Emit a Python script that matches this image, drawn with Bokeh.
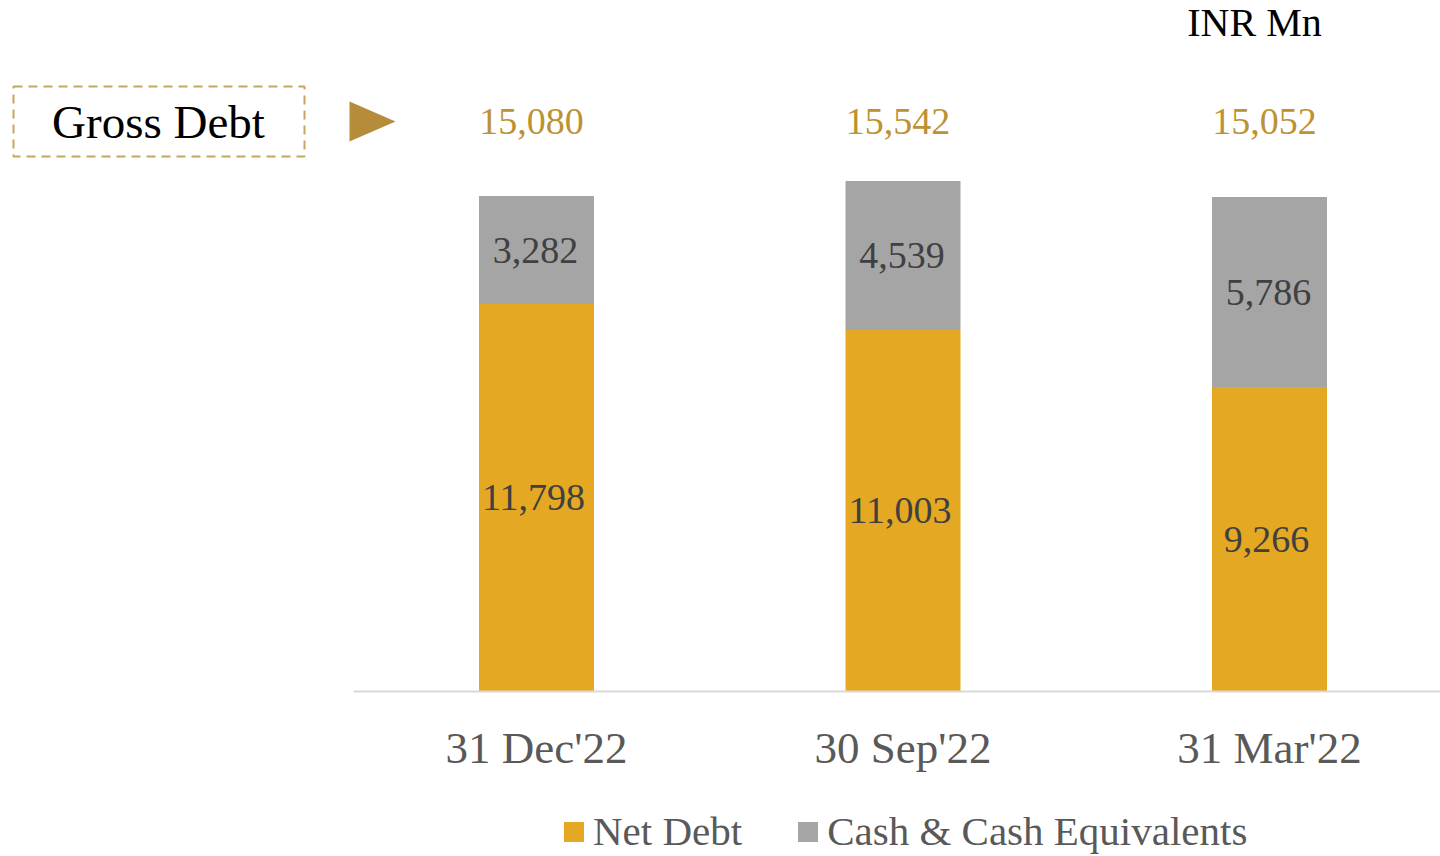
from bokeh.plotting import figure
from bokeh.models import Range1d, ColumnDataSource, Legend, LegendItem
from bokeh.core.properties import value
from bokeh.embed import file_html
from bokeh.resources import INLINE

# ---------------- data ----------------
categories = ["31 Dec'22", "30 Sep'22", "31 Mar'22"]
net_debt = [11798, 11003, 9266]
cash = [3282, 4539, 5786]
gross_debt = [15080, 15542, 15052]
series_names = ["Net Debt", "Cash & Cash Equivalents"]
unit_label = "INR Mn"
gross_label = "Gross Debt"

# ---------------- layout constants ----------------
W, H = 1440, 856
PX_PER_CAT = 366.5      # horizontal pixels per category
PX_PER_UNIT = 0.03285   # vertical pixels per INR Mn
ORIGIN_X = 536          # px from left of first category centre
BASE_Y = 691            # px from top of the zero line

FONT = value("Liberation Serif")
NET_COLOR = "#E5A823"
CASH_COLOR = "#A5A5A5"
GOLD_TEXT = "#BC9232"
ARROW_COLOR = "#B58C3A"
BOX_COLOR = "#C9A45C"
DARK_TEXT = "#404040"
GREY_TEXT = "#595959"


def fx(px):
    return (px - ORIGIN_X) / PX_PER_CAT


def fy(py):
    return (BASE_Y - py) / PX_PER_UNIT


x_range = Range1d(fx(0), fx(W))
y_range = Range1d(fy(H), fy(0))

p = figure(width=W, height=H, x_range=x_range, y_range=y_range,
           output_backend="svg", toolbar_location=None,
           x_axis_location=None, y_axis_location=None,
           min_border=0, min_border_left=0, min_border_right=0,
           min_border_top=0, min_border_bottom=0)
p.outline_line_color = None
p.grid.visible = False
p.background_fill_color = "white"
p.border_fill_color = "white"

idx = list(range(len(categories)))
src = ColumnDataSource(dict(
    x=idx,
    cat=categories,
    net=net_debt,
    cash=cash,
    gross=gross_debt,
    top=[n + c for n, c in zip(net_debt, cash)],
    net_mid=[n / 2 for n in net_debt],
    cash_mid=[n + c / 2 for n, c in zip(net_debt, cash)],
    net_lbl=[f"{v:,}" for v in net_debt],
    cash_lbl=[f"{v:,}" for v in cash],
    gross_lbl=[f"{v:,}" for v in gross_debt],
))

BAR_W = 115 / PX_PER_CAT
r_net = p.vbar(x="x", bottom=0, top="net", width=BAR_W, source=src,
               fill_color=NET_COLOR, line_color=None)
r_cash = p.vbar(x="x", bottom="net", top="top", width=BAR_W, source=src,
                fill_color=CASH_COLOR, line_color=None)

# zero line
p.segment(x0=[fx(353)], y0=[0], x1=[fx(W)], y1=[0],
          line_color="#D9D9D9", line_width=2)

# segment labels
p.text(x="x", y="net_mid", text="net_lbl", source=src, text_font=FONT,
       text_font_size="38px", text_color=DARK_TEXT, x_offset=-3,
       text_align="center", text_baseline="middle")
p.text(x="x", y="cash_mid", text="cash_lbl", source=src, text_font=FONT,
       text_font_size="38px", text_color=DARK_TEXT, x_offset=-1,
       text_align="center", text_baseline="middle")

# gross debt values row
p.text(x="x", y=fy(121), text="gross_lbl", source=src, text_font=FONT,
       text_font_size="38px", text_color=GOLD_TEXT, x_offset=-5,
       text_align="center", text_baseline="middle")

# category labels
p.text(x="x", y=fy(747), text="cat", source=src, text_font=FONT,
       text_font_size="45px", text_color=GREY_TEXT,
       text_align="center", text_baseline="middle")

# Gross Debt box + arrow
p.quad(left=[fx(13)], right=[fx(304)], top=[fy(86)], bottom=[fy(156)],
       fill_color=None, line_color=BOX_COLOR, line_width=2,
       line_dash="9 6")
p.text(x=[fx(158)], y=[fy(121)], text=[gross_label], text_font=FONT,
       text_font_size="47px", text_color="black",
       text_align="center", text_baseline="middle")
p.patch(x=[fx(349), fx(349), fx(395)], y=[fy(101), fy(141), fy(121)],
        fill_color=ARROW_COLOR, line_color=None)

# unit label
p.text(x=[fx(1254)], y=[fy(22)], text=[unit_label], text_font=FONT,
       text_font_size="40px", text_color="black",
       text_align="center", text_baseline="middle")

legend = Legend(items=[LegendItem(label=series_names[0], renderers=[r_net]),
                       LegendItem(label=series_names[1], renderers=[r_cash])],
                orientation="horizontal", location=(561, 1),
                glyph_width=25, glyph_height=25, label_standoff=7,
                spacing=53, padding=0, margin=0,
                border_line_color=None, background_fill_alpha=0,
                label_text_font="Liberation Serif", label_text_font_size="41px",
                label_text_color=GREY_TEXT)
p.add_layout(legend)

open("out.html", "w").write(file_html(p, INLINE))
